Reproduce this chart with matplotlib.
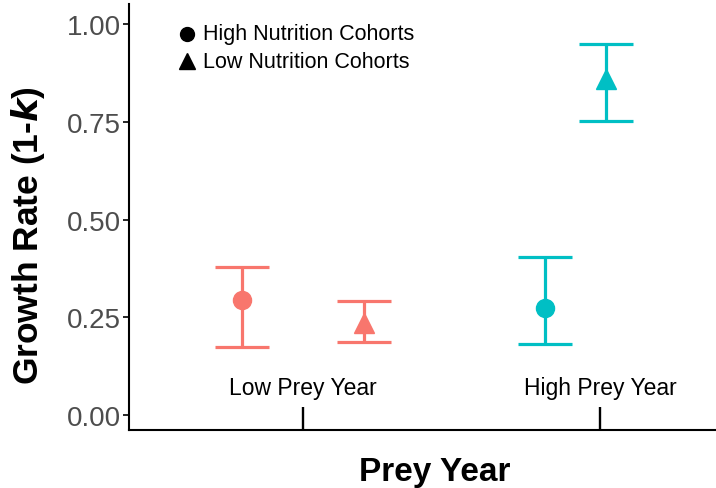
import matplotlib.pyplot as plt

plt.rcParams['font.family'] = ['Liberation Sans', 'DejaVu Sans']

# Growth rate estimates with error bar limits
prey_years = ["Low Prey Year", "High Prey Year"]
groups = ["Low Prey Year", "Low Prey Year", "High Prey Year", "High Prey Year"]
cohorts = ["High", "Low", "High", "Low"]
dodge = [-0.205, 0.205, -0.185, 0.02]
growth = [0.294, 0.235, 0.273, 0.859]
lower = [0.175, 0.186, 0.183, 0.752]
upper = [0.379, 0.292, 0.405, 0.949]

colors = {"Low Prey Year": "#F8766D", "High Prey Year": "#00BFC4"}
markers = {"High": "o", "Low": "^"}
sizes = {"High": 13, "Low": 14}

fig = plt.figure(figsize=(7.16, 4.89), dpi=100)
ax = fig.add_axes([129 / 716, 1 - 431 / 489, 1 - 129 / 716, 426 / 489])

for g, c, d, y, lo, hi in zip(groups, cohorts, dodge, growth, lower, upper):
    x = prey_years.index(g) + 1 + d
    ax.errorbar(x, y, yerr=[[y - lo], [hi - y]], fmt=markers[c],
                color=colors[g], ms=sizes[c], elinewidth=2.3,
                capsize=19.5, capthick=2.3)

ax.set_xlim(1 - 174 / 297, 2 + 116 / 297)
ax.set_ylim(-0.038, 1.051)
ax.set_yticks([0, 0.25, 0.5, 0.75, 1.0])
ax.set_yticklabels(["0.00", "0.25", "0.50", "0.75", "1.00"])
ax.set_xticks([1, 2])
ax.set_xticklabels(prey_years)

for s in ["top", "right"]:
    ax.spines[s].set_visible(False)
for s in ["left", "bottom"]:
    ax.spines[s].set_linewidth(1.5)

ax.tick_params(axis="y", labelsize=20, labelcolor="#4D4D4D", length=4,
               width=1.2, pad=2)
ax.tick_params(axis="x", labelsize=16.5, direction="in", length=16.5,
               width=1.7, pad=-39)

ax.set_ylabel("Growth Rate (1-$\\bfit{k}$)", fontsize=25.5, fontweight="bold")
ax.yaxis.label.set_va("center")
ax.yaxis.set_label_coords(-0.172, 0.458)
ax.set_xlabel("Prey Year", fontsize=24, fontweight="bold")
ax.xaxis.label.set_va("top")
ax.xaxis.set_label_coords(0.521, -0.061)

# legend for the cohort shapes
leg_x = 0.0988
for i, (c, label) in enumerate([("High", "High Nutrition Cohorts"),
                                ("Low", "Low Nutrition Cohorts")]):
    yy = 0.930 - i * 0.064
    ax.plot(leg_x, yy, markers[c], color="black", ms=10 + i,
            transform=ax.transAxes, clip_on=False)
    ax.text(leg_x + 0.027, yy, label, fontsize=15.5, va="center",
            transform=ax.transAxes)

fig.savefig("out.png", dpi=100)
